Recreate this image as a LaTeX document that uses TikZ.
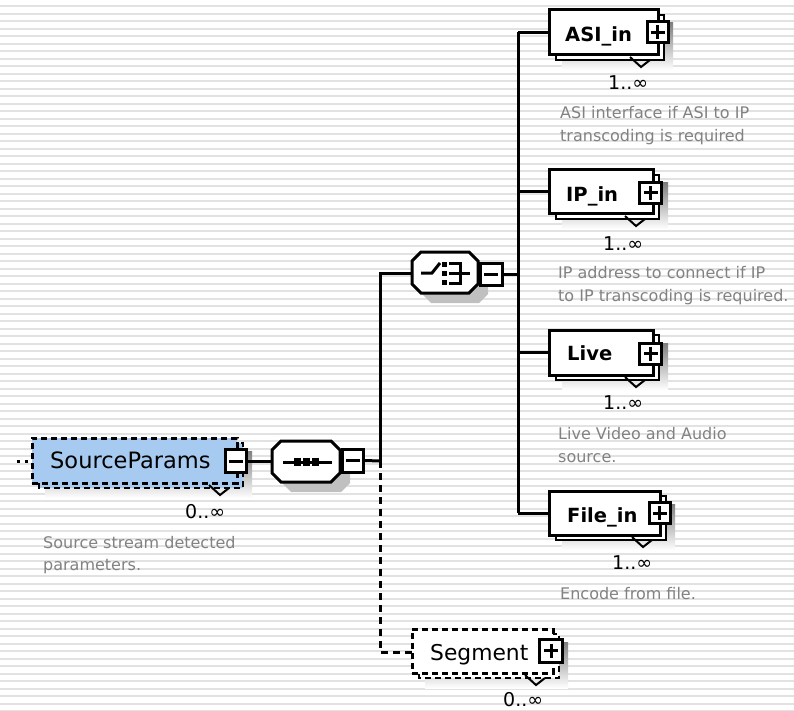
\documentclass[tikz,border=0pt]{standalone}
\usepackage{fontspec}
\setmainfont{DejaVu Sans}
\usetikzlibrary{calc}
\definecolor{stripe}{RGB}{226,226,226}
\definecolor{shade}{RGB}{192,192,192}
\definecolor{optblue}{RGB}{166,202,240}
\definecolor{desccol}{RGB}{130,130,130}
\tikzset{
  conn/.style={line width=3pt},
  optconn/.style={line width=3pt, dash pattern=on 7pt off 5pt},
  frontbox/.style={draw, line width=3pt, rectangle, inner sep=0pt},
  symbox/.style={draw, line width=3pt, fill=white, rectangle, inner sep=0pt},
  optdash/.style={dash pattern=on 6pt off 4pt},
  solidline/.style={solid},
  nameopt/.style={anchor=base west, inner sep=0pt, font=\fontsize{22.5}{27}\selectfont},
  namereq/.style={anchor=base west, inner sep=0pt, font=\bfseries\fontsize{19.5}{24}\selectfont},
  mult/.style={anchor=base west, inner sep=0pt, font=\fontsize{19}{23}\selectfont},
  desc/.style={anchor=base west, inner sep=0pt, text=desccol, font=\fontsize{16}{20}\selectfont},
  icon/.style={line width=3pt},
}
% element box stack: #1 name, #2 x0, #3 y0, #4 x1, #5 y1, #6 fill, #7 line style
\newcommand\elembox[7]{%
  \fill[shade] ({#2+13},{#3+13}) rectangle ({#4+15},{#5+15});
  \draw[line width=2pt, fill=#6, #7] ({#2+7},{#3+5}) rectangle ({#4+6},{#5+5});
  \draw[line width=2pt] ({#4-28},{#5+2}) -- ({#4-17},{#5+12}) -- ({#4-8},{#5+5});
  \node[frontbox, fill=#6, #7, minimum width={#4-#2}, minimum height={#5-#3}] (#1) at ({(#2+#4)/2},{(#3+#5)/2}) {};
}
% plus / minus symbol boxes
\newcommand\plusbox[5]{% name, cx, cy, w, h
  \node[symbox, minimum width=#4, minimum height=#5] (#1) at (#2,#3) {};
  \draw[icon] ($(#1.center)+(-7,0)$) -- ($(#1.center)+(7,0)$);
  \draw[icon] ($(#1.center)+(0,-7)$) -- ($(#1.center)+(0,7)$);
}
\newcommand\minusbox[5]{%
  \node[symbox, minimum width=#4, minimum height=#5] (#1) at (#2,#3) {};
  \draw[icon] ($(#1.center)+(-7,0)$) -- ($(#1.center)+(7,0)$);
}
% octagon: x0 y0 x1 y1 chamfer, options
\newcommand\octa[6]{%
  \path[#6] ({#1+#5},#2) -- ({#3-#5},#2) -- (#3,{#2+#5}) -- (#3,{#4-#5}) -- ({#3-#5},#4)
    -- ({#1+#5},#4) -- (#1,{#4-#5}) -- (#1,{#2+#5}) -- cycle;
}
\begin{document}
\begin{tikzpicture}[x=1pt,y=-1pt]
\useasboundingbox (0,0) rectangle (794,711);
\fill[white] (0,0) rectangle (794,711);
\foreach \i in {0,...,94} \fill[stripe] (0,{5.2+7.5*\i}) rectangle (794,{7.4+7.5*\i});

% ---------- SourceParams ----------
\elembox{sp}{32}{438}{237}{483}{optblue}{optdash}
\minusbox{sp-sym}{235.5}{461}{21}{23}
\node[nameopt] (sp-t) at (50,468) {SourceParams};
\node[mult] (sp-m) at (185,518) {0..∞};
\node[desc] (sp-d1) at (43,548) {Source stream detected};
\node[desc] (sp-d2) at (43,570) {parameters.};
\coordinate (in) at (17,461);
\draw[line width=3pt, dash pattern=on 3pt off 5pt] (in) -- (in -| sp.west);

% ---------- sequence compositor ----------
\octa{282}{451}{350}{492}{9}{fill=shade}
\node[inner sep=0pt, minimum width=68, minimum height=41] (seq) at (306,461.5) {};
\octa{272}{441}{340}{482}{9}{draw, line width=3pt, fill=white}
\draw[icon] (283,462) -- (332,462);
\foreach \xx in {297,306,315} \fill ({\xx-3.5},458) rectangle ({\xx+3.5},466);
\minusbox{seq-sym}{352.5}{460.5}{21}{23}

% ---------- choice compositor ----------
\octa{422}{262}{488}{303}{9}{fill=shade}
\node[inner sep=0pt, minimum width=66, minimum height=41] (cho) at (445,272.5) {};
\octa{412}{252}{478}{293}{9}{draw, line width=3pt, fill=white}
\draw[icon] (421,273) -- (432,273) -- (440,263);
\foreach \yy in {264,273,282} \fill (441.5,{\yy-2.5}) rectangle (446.5,{\yy+2.5});
\draw[icon] (449,263) -- (460,263) -- (460,283) -- (449,283);
\draw[icon] (449,273) -- (470,273);
\minusbox{cho-sym}{491}{274}{22}{22}

% ---------- junctions and connectors ----------
\coordinate (j1) at (380,461);
\coordinate (j1top) at (380,273);
\coordinate (j1bot) at (380,652);
\coordinate (j2) at (518,274);
\coordinate (j2top) at (518,32.5);
\coordinate (j2bot) at (518,513);
\draw[conn] (sp-sym.east) -- (sp-sym.east -| seq.west);
\draw[conn] (seq-sym.east) -- (j1);
\draw[conn] (j1) -- (j1top) -- (j1top -| cho.west);
\draw[optconn] (j1) -- (j1bot) -- (j1bot -| 412,0);
\draw[conn] (cho-sym.east) -- (j2);
\draw[conn] (j2top) -- (j2bot);

% ---------- ASI_in ----------
\elembox{asi}{549}{10}{658}{55}{white}{solidline}
\plusbox{asi-sym}{657.5}{32.5}{21}{21}
\node[namereq] (asi-t) at (565,42) {ASI\_in};
\node[mult] (asi-m) at (608,90) {1..∞};
\node[desc] (asi-d1) at (560,119) {ASI interface if ASI to IP};
\node[desc] (asi-d2) at (560,142) {transcoding is required};
\draw[conn] (asi.west -| j2) -- (asi.west);

% ---------- IP_in ----------
\elembox{ip}{549}{170}{653}{214}{white}{solidline}
\plusbox{ip-sym}{650.5}{193}{22}{21}
\node[namereq] (ip-t) at (566,202) {IP\_in};
\node[mult] (ip-m) at (603,250) {1..∞};
\node[desc] (ip-d1) at (558,278) {IP address to connect if IP};
\node[desc] (ip-d2) at (558,301) {to IP transcoding is required.};
\draw[conn] (ip.west -| j2) -- (ip.west);

% ---------- Live ----------
\elembox{live}{549}{330}{653}{375}{white}{solidline}
\plusbox{live-sym}{650.5}{353.5}{22}{21}
\node[namereq] (live-t) at (567,360) {Live};
\node[mult] (live-m) at (603,409) {1..∞};
\node[desc] (live-d1) at (558,439) {Live Video and Audio};
\node[desc] (live-d2) at (558,462) {source.};
\draw[conn] (live.west -| j2) -- (live.west);

% ---------- File_in ----------
\elembox{file}{549}{491}{660}{535}{white}{solidline}
\plusbox{file-sym}{659.5}{513}{21}{21}
\node[namereq] (file-t) at (567,522) {File\_in};
\node[mult] (file-m) at (612,569) {1..∞};
\node[desc] (file-d1) at (560,599) {Encode from file.};
\draw[conn] (file.west -| j2) -- (file.west);

% ---------- Segment ----------
\elembox{seg}{412}{629}{553}{673}{white}{optdash}
\plusbox{seg-sym}{551}{650.5}{23}{23}
\node[nameopt, font=\fontsize{21.8}{26}\selectfont] (seg-t) at (430,660) {Segment};
\node[mult] (seg-m) at (503,706) {0..∞};
\end{tikzpicture}
\end{document}
